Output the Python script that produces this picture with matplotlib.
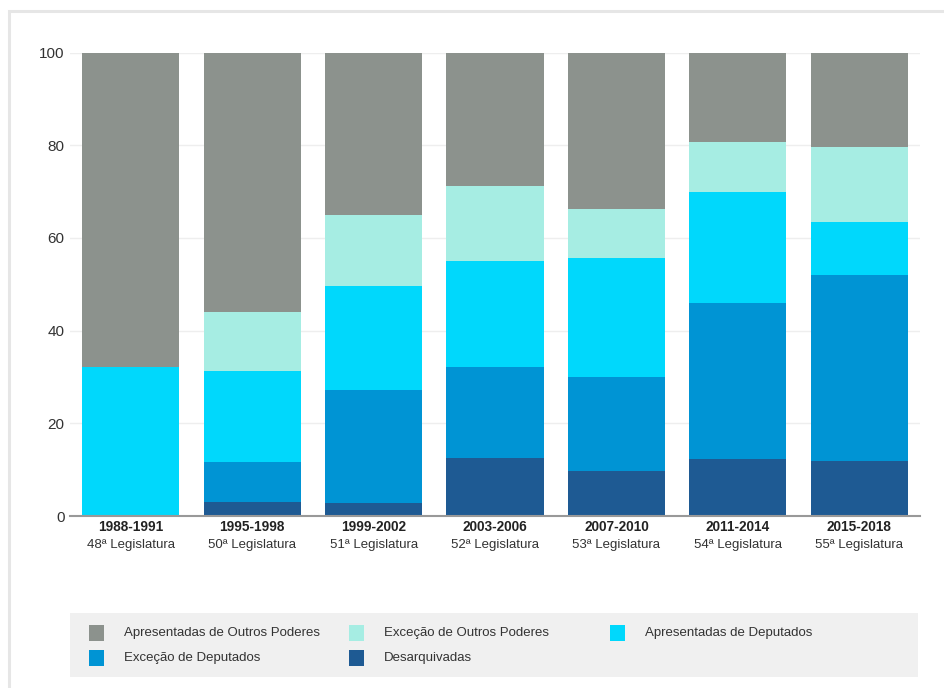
import matplotlib

matplotlib.use('Agg')
import matplotlib.pyplot as plt
from matplotlib.patches import Rectangle
import numpy as np

plt.rcParams['font.family'] = ['Liberation Sans', 'DejaVu Sans']

periodos = ['1988-1991', '1995-1998', '1999-2002', '2003-2006', '2007-2010', '2011-2014', '2015-2018']
legislaturas = ['48ª Legislatura', '50ª Legislatura', '51ª Legislatura', '52ª Legislatura',
                '53ª Legislatura', '54ª Legislatura', '55ª Legislatura']

# percentuais por legislatura (de baixo para cima na pilha)
desarquivadas = [0.0, 3.1, 2.9, 12.6, 9.8, 12.3, 11.9]
excecao_deputados = [0.0, 8.6, 24.3, 19.5, 20.1, 33.6, 40.1]
apresentadas_deputados = [32.2, 19.6, 22.5, 23.0, 25.8, 24.1, 11.4]
excecao_outros = [0.0, 12.7, 15.3, 16.0, 10.6, 10.6, 16.2]
apresentadas_outros = [67.8, 56.0, 35.0, 28.9, 33.7, 19.4, 20.4]

series = [
    ('Desarquivadas', desarquivadas, '#1e5a93'),
    ('Exceção de Deputados', excecao_deputados, '#0094d4'),
    ('Apresentadas de Deputados', apresentadas_deputados, '#00d8fc'),
    ('Exceção de Outros Poderes', excecao_outros, '#a6ede3'),
    ('Apresentadas de Outros Poderes', apresentadas_outros, '#8c928d'),
]

W, H = 945, 688
fig = plt.figure(figsize=(W / 100, H / 100), dpi=100)
ax = fig.add_axes([70 / W, 1 - 516 / H, 850 / W, 463.5 / H])

x = np.arange(len(periodos))
base = np.zeros(len(periodos))
for nome, vals, cor in series:
    ax.bar(x, vals, width=0.8, bottom=base, color=cor, linewidth=0, zorder=2)
    base += np.array(vals)

ax.set_xlim(-0.5, len(periodos) - 0.5)
ax.set_ylim(0, 100)
ax.set_yticks([0, 20, 40, 60, 80, 100])
ax.tick_params(axis='y', length=0, pad=4, labelsize=11, labelcolor='#333333')
ax.tick_params(axis='x', length=0, labelbottom=False)
ax.grid(axis='y', color='#eeeeee', linewidth=1, zorder=0)
for s in ['top', 'right', 'left']:
    ax.spines[s].set_visible(False)
ax.spines['bottom'].set_color('#999999')
ax.spines['bottom'].set_linewidth(1.5)
ax.spines['bottom'].set_zorder(3)

trans = ax.get_xaxis_transform()
for i, (p, l) in enumerate(zip(periodos, legislaturas)):
    ax.text(i, -11 / 463.5, p, transform=trans, ha='center', va='center',
            fontsize=9.8, fontweight='bold', color='#222222')
    ax.text(i, -29 / 463.5, l, transform=trans, ha='center', va='center',
            fontsize=9.5, color='#333333')

# moldura externa
fig.add_artist(Rectangle((9 / W, 1 - 700 / H), 960 / W, 689 / H, transform=fig.transFigure,
                         facecolor='none', edgecolor='#e6e6e6', linewidth=2.2, clip_on=False))

# caixa da legenda
fig.add_artist(Rectangle((70 / W, 1 - 677 / H), 848 / W, 64 / H, transform=fig.transFigure,
                         facecolor='#f0f0f0', edgecolor='none'))

ordem = [4, 3, 2, 1, 0]
posicoes = [(89, 633), (349, 633), (610, 633), (89, 658), (349, 658)]
for k, (px, py) in zip(ordem, posicoes):
    nome, vals, cor = series[k]
    fig.add_artist(Rectangle((px / W, 1 - (py + 8) / H), 15 / W, 16 / H,
                             transform=fig.transFigure, facecolor=cor, edgecolor='none'))
    fig.text((px + 35) / W, 1 - py / H, nome, ha='left', va='center',
             fontsize=9.5, color='#333333')

fig.savefig('out.png', dpi=100)
